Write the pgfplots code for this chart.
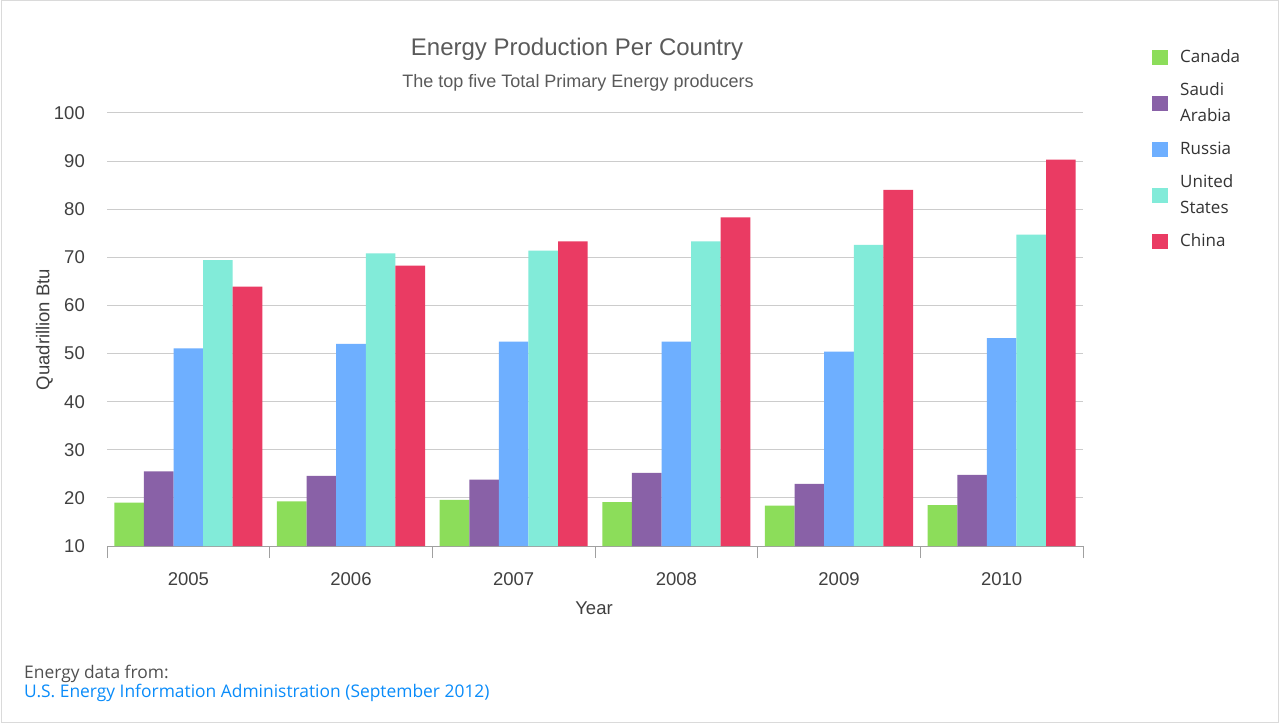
\documentclass[border=0pt]{standalone}
\usepackage{fontspec}
\setmainfont{Liberation Sans}
\newfontfamily\opensans{Open Sans}
\usepackage{pgfplots}
\pgfplotsset{compat=1.18}
\definecolor{cCanada}{RGB}{140,221,90}
\definecolor{cSaudi}{RGB}{137,97,167}
\definecolor{cRussia}{RGB}{110,175,255}
\definecolor{cUS}{RGB}{130,235,217}
\definecolor{cChina}{RGB}{234,59,99}
\definecolor{gridgray}{RGB}{204,204,204}
\definecolor{axisgray}{RGB}{160,160,160}
\definecolor{titlegray}{RGB}{90,90,90}
\definecolor{labgray}{RGB}{64,64,64}
\definecolor{leggray}{RGB}{51,51,51}
\definecolor{footgray}{RGB}{80,80,80}
\definecolor{footblue}{RGB}{10,140,250}
\definecolor{bordergray}{RGB}{218,218,218}
\newcommand\titlefont{\fontsize{24pt}{28pt}\selectfont}
\newcommand\subfont{\fontsize{18pt}{22pt}\selectfont}
\newcommand\tickfont{\fontsize{18.5pt}{22pt}\selectfont}
\newcommand\labfont{\fontsize{18.5pt}{22pt}\selectfont}
\newcommand\legfont{\opensans\fontsize{17pt}{26pt}\selectfont}
\newcommand\footfont{\opensans\fontsize{17.4pt}{20pt}\selectfont}
\newcommand\ls{\rule[-8pt]{0pt}{26pt}}
\begin{document}
\begin{tikzpicture}
\path[use as bounding box] (0,0) rectangle (1280pt,724pt);
\fill[white] (0,0) rectangle (1280pt,724pt);
\draw[bordergray, line width=1pt] (1pt,1.5pt) rectangle (1278.5pt,723.5pt);
\begin{axis}[
  at={(107pt,178pt)}, anchor=south west,
  scale only axis, width=976pt, height=433pt,
  xmin=-0.5, xmax=5.5, ymin=10, ymax=100,
  ybar=0pt, bar width=0.182,
  ytick={10,20,...,100},
  ymajorgrids, grid style={gridgray, line width=1pt},
  axis x line*=bottom, axis y line*=left,
  y axis line style={draw=none},
  x axis line style={-, draw=axisgray, line width=1pt},
  xtick={-0.5,0.5,...,5.5}, xticklabels={},
  extra x ticks={0,1,2,3,4,5},
  extra x tick labels={2005,2006,2007,2008,2009,2010},
  extra x tick style={major tick length=0pt, grid=none},
  tick align=outside, major tick length=12pt,
  x tick style={draw=axisgray, line width=1pt},
  y tick style={draw=none},
  /pgf/number format/assume math mode=true,
  ticklabel style={font=\tickfont, text=labgray},
  xticklabel style={inner sep=0pt, anchor=north, yshift=-26.5pt},
  yticklabel style={inner sep=0pt, anchor=east, xshift=-10pt},
  xlabel={Year}, ylabel={Quadrillion Btu},
  label style={font=\labfont, text=labgray},
  xlabel style={at={(axis description cs:0.499,-0.15704)}, anchor=base},
  ylabel style={at={(axis description cs:-0.05891,0.5)}, anchor=base},
  legend cell align=left,
  legend style={at={(1.0707,1.15935)}, anchor=north west, draw=none, fill=none,
    inner sep=0pt, row sep=7pt, font=\legfont, text=leggray,
    nodes={inner sep=0pt, align=left, text depth=},
    /tikz/every odd column/.append style={column sep=12pt}},
  every axis plot post/.append style={legend image code/.code={\fill[##1, draw=none] (0pt,-7.5pt) rectangle (16pt,7.5pt);}},
]
\addplot[fill=cCanada, draw=none] coordinates {(0,19.0) (1,19.3) (2,19.6) (3,19.1) (4,18.4) (5,18.5)};
\addplot[fill=cSaudi, draw=none] coordinates {(0,25.5) (1,24.6) (2,23.8) (3,25.2) (4,22.9) (5,24.8)};
\addplot[fill=cRussia, draw=none] coordinates {(0,51.1) (1,52.0) (2,52.5) (3,52.5) (4,50.4) (5,53.2)};
\addplot[fill=cUS, draw=none] coordinates {(0,69.4) (1,70.8) (2,71.4) (3,73.3) (4,72.6) (5,74.7)};
\addplot[fill=cChina, draw=none] coordinates {(0,63.9) (1,68.3) (2,73.3) (3,78.3) (4,84.0) (5,90.3)};
\legend{{\ls Canada},{\ls Saudi\\\ls Arabia},{\ls Russia},{\ls United\\\ls States},{\ls China}}
\end{axis}
\node[anchor=base, font=\titlefont, text=titlegray, inner sep=0pt] at (577pt,668pt) {Energy Production Per Country};
\node[anchor=base, font=\subfont, text=titlegray, inner sep=0pt] at (578pt,636pt) {The top five Total Primary Energy producers};
\node[anchor=base west, font=\footfont, text=footgray, inner sep=0pt] at (24pt,46pt) {Energy data from:};
\node[anchor=base west, font=\footfont, text=footblue, inner sep=0pt] at (24pt,27pt) {U.S. Energy Information Administration (September 2012)};
\end{tikzpicture}
\end{document}
